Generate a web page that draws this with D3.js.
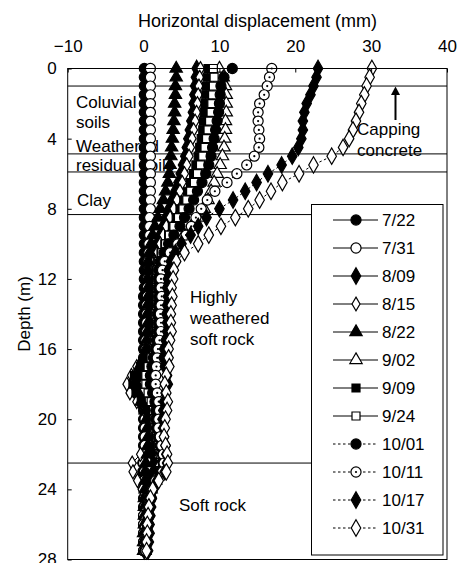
<!DOCTYPE html>
<html>
<head>
<meta charset="utf-8">
<script src="https://cdn.jsdelivr.net/npm/d3@7"></script>
<style>
  body { margin: 0; background: #fff; }
  svg { font-family: Arial, "Liberation Sans", sans-serif; }
</style>
</head>
<body>
<div id="canvas"></div>
<script>
// reading dates (legend order)
const dates = ['7/22', '7/31', '8/09', '8/15', '8/22', '9/02', '9/09', '9/24', '10/01', '10/11', '10/17', '10/31'];

// measuring depths (m)
const depths = [0, 0.5, 1, 1.5, 2, 2.5, 3, 3.5, 4, 4.5, 5, 5.5, 6, 6.5, 7, 7.5, 8, 8.5, 9, 9.5,
  10, 10.5, 11, 11.5, 12, 12.5, 13, 13.5, 14, 14.5, 15, 15.5, 16, 16.5, 17, 17.5, 18, 18.5, 19, 19.5,
  20, 20.5, 21, 21.5, 22, 22.5, 23, 23.5, 24, 24.5, 25, 25.5, 26, 26.5, 27, 27.5];

// horizontal displacement (mm) per reading
const d0722 = [0.1, 0.1, 0.1, 0.1, 0.1, 0.1, 0.1, 0.1, 0.1, 0.1, 0.1, 0.1, 0.1, 0.1, 0.1, 0.1, 0.1, 0.1, 0.1, 0.1,
  0.1, 0.1, 0.1,
  0.1, 0.1, 0.1, 0.0, 0.0, 0.0, 0.0, 0.0, 0.0, 0.0, 0.0, -0.1, -0.1, -0.2, -0.2, -0.1, 0.0, 0.0, 0.0, 0.0,
  0.0, 0.0, -0.1, -0.1, 0.0, 0.0, 0.0, 0.0, 0.0, 0.0, 0.0, 0.0, 0.0];
const d0731 = [0.9, 0.9, 0.9, 0.9, 0.9, 0.9, 0.9, 0.9, 0.9, 0.9, 0.9, 0.9, 0.9, 0.9, 0.9, 0.9, 0.9, 0.8, 0.8, 0.8,
  0.7, 0.7, 0.6,
  0.6, 0.5, 0.5, 0.5, 0.4, 0.4, 0.4, 0.4, 0.3, 0.3, 0.3, 0.2, 0.1, 0.0, 0.0, 0.1, 0.2, 0.2, 0.2, 0.2,
  0.2, 0.1, 0.0, 0.1, 0.1, 0.1, 0.1, 0.1, 0.0, 0.0, 0.0, 0.0, 0.0];
const d0809 = [7.0, 6.9, 6.8, 6.7, 6.6, 6.5, 6.3, 6.1, 5.9, 5.7, 5.5, 5.2, 4.9, 4.6, 4.2, 3.8, 3.4, 3.0, 2.6, 2.2,
  1.8, 1.5, 1.2,
  1.1, 1.0, 1.0, 1.1, 1.0, 0.9, 1.0, 1.1, 1.0, 0.9, 0.7, 0.2, -0.6, -1.1, -1.0, -0.5, 0.3, 0.8, 0.9, 1.0,
  1.1, 1.2, 1.4, 1.3, 0.9, 0.6, 0.4, 0.3, 0.3, 0.2, 0.2, 0.1, 0.1];
const d0815 = [7.5, 7.4, 7.3, 7.2, 7.1, 7.0, 6.8, 6.6, 6.4, 6.2, 6.0, 5.7, 5.4, 5.1, 4.8, 4.4, 4.0, 3.5, 3.0, 2.6,
  2.2, 1.8, 1.4,
  1.2, 1.1, 1.2, 1.3, 1.2, 1.1, 1.1, 1.2, 1.0, 0.8, 0.2, -0.9, -1.6, -2.2, -1.8, -0.9, 0.1, 0.6, 0.8, 0.9,
  0.6, -0.4, -1.5, -1.4, -0.8, -0.2, 0.2, 0.3, 0.2, 0.2, 0.1, 0.1, 0.1];
const d0822 = [4.3, 4.3, 4.2, 4.2, 4.1, 4.1, 4.0, 3.9, 3.8, 3.7, 3.6, 3.5, 3.4, 3.2, 2.9, 2.6, 2.2, 1.9, 1.5, 1.2,
  1.0, 0.8, 0.6,
  0.5, 0.5, 0.6, 0.6, 0.5, 0.5, 0.6, 0.5, 0.4, 0.3, 0.0, -0.5, -0.8, -0.9, -0.7, -0.3, 0.2, 0.4, 0.5, 0.6,
  0.6, 0.5, 0.3, 0.2, 0.2, 0.2, 0.1, 0.1, 0.1, 0.1, 0.0, 0.0, 0.0];
const d0902 = [10.0, 10.5, 10.8, 10.9, 10.9, 10.9, 10.8, 10.8, 10.7, 10.6, 10.4, 10.1, 9.7, 9.3, 8.9, 8.5, 8.0, 7.2, 6.3, 5.3,
  4.2, 3.2, 2.5,
  2.1, 1.9, 1.8, 1.8, 1.7, 1.6, 1.7, 1.8, 1.7, 1.6, 1.4, 1.0, 0.8, 0.7, 0.9, 1.3, 1.6, 1.8, 1.9, 2.0,
  2.1, 2.2, 2.3, 2.1, 1.6, 1.0, 0.7, 0.5, 0.4, 0.3, 0.3, 0.2, 0.2];
const d0909 = [8.5, 8.4, 8.3, 8.2, 8.1, 8.0, 7.9, 7.8, 7.6, 7.4, 7.2, 6.9, 6.6, 6.2, 5.8, 5.3, 4.8, 4.3, 3.8, 3.3,
  2.8, 2.3, 1.8,
  1.6, 1.5, 1.5, 1.6, 1.5, 1.4, 1.5, 1.6, 1.4, 1.2, 0.6, -0.4, -1.2, -1.4, -1.0, -0.3, 0.6, 1.2, 1.4, 1.6,
  1.9, 2.3, 2.5, 2.1, 1.4, 0.9, 0.7, 0.6, 0.5, 0.4, 0.3, 0.2, 0.2];
const d0924 = [9.2, 9.3, 9.2, 9.1, 9.0, 8.9, 8.7, 8.5, 8.3, 8.1, 7.8, 7.5, 7.1, 6.7, 6.2, 5.7, 5.2, 4.6, 4.0, 3.4,
  2.9, 2.4, 2.0,
  1.8, 1.7, 1.7, 1.8, 1.7, 1.6, 1.7, 1.7, 1.5, 1.3, 1.0, 0.6, 0.3, 0.3, 0.6, 1.0, 1.3, 1.4, 1.5, 1.7,
  2.0, 2.3, 2.5, 2.2, 1.3, 0.9, 0.7, 0.6, 0.5, 0.4, 0.3, 0.3, 0.2];
const d1001 = [11.7, 10.6, 10.2, 10.1, 10.0, 9.9, 9.7, 9.5, 9.3, 9.1, 8.9, 8.6, 8.2, 7.7, 7.1, 6.6, 6.0, 5.4, 4.8, 4.0,
  3.3, 2.7, 2.2,
  2.0, 1.9, 1.9, 2.0, 1.9, 1.8, 1.9, 1.9, 1.7, 1.5, 1.3, 1.1, 0.9, 0.9, 1.2, 1.5, 1.6, 1.6, 1.7, 1.9,
  2.2, 2.5, 2.6, 2.3, 1.4, 1.0, 0.8, 0.7, 0.6, 0.5, 0.4, 0.3, 0.3];
const d1011 = [16.9, 16.6, 16.3, 15.9, 15.3, 15.1, 15.1, 15.2, 15.3, 15.2, 14.6, 13.6, 12.3, 11.0, 9.4, 8.4, 7.6, 6.9, 6.3, 5.6,
  4.5, 3.5, 2.8,
  2.5, 2.3, 2.3, 2.4, 2.3, 2.2, 2.3, 2.3, 2.1, 1.9, 1.8, 1.7, 1.6, 1.6, 1.8, 2.0, 2.1, 2.0, 2.0, 2.2,
  2.4, 2.6, 2.7, 2.5, 1.6, 1.2, 1.0, 0.8, 0.7, 0.6, 0.5, 0.4, 0.3];
const d1017 = [23.0, 22.8, 22.4, 22.0, 21.5, 21.2, 21.0, 21.0, 20.8, 20.4, 19.6, 18.2, 16.4, 14.9, 13.4, 11.8, 10.0, 8.3, 7.2, 6.2,
  5.0, 4.2, 3.6,
  3.3, 3.2, 3.1, 3.2, 3.1, 3.0, 3.1, 3.1, 2.9, 2.7, 2.6, 2.8, 3.1, 3.2, 2.9, 2.7, 2.6, 2.5, 2.6, 2.7,
  2.9, 3.0, 3.1, 2.8, 1.8, 1.3, 1.1, 1.0, 0.9, 0.8, 0.8, 0.7, 0.6];
const d1031 = [30.1, 29.8, 29.4, 29.1, 28.7, 28.4, 28.0, 27.6, 27.1, 26.3, 24.8, 22.4, 20.5, 18.3, 16.8, 15.3, 13.8, 12.1, 10.2, 8.6,
  7.2, 5.4, 4.3,
  4.0, 3.9, 3.7, 3.8, 3.7, 3.6, 3.6, 3.7, 3.5, 3.3, 3.3, 3.4, 3.0, 2.8, 3.0, 3.2, 3.1, 2.9, 2.8, 2.7,
  2.9, 3.1, 3.2, 3.0, 2.0, 1.2, 0.9, 0.7, 0.6, 0.5, 0.5, 0.4, 0.4];

const readings = [d0722, d0731, d0809, d0815, d0822, d0902, d0909, d0924, d1001, d1011, d1017, d1031];

const xTicks = [-10, 0, 10, 20, 30, 40];
const yTicks = [0, 4, 8, 12, 16, 20, 24, 28];

// soil layer boundaries (m)
const layerDepths = [1.0, 4.87, 5.9];
const shortLayerDepths = [8.33, 22.5];

// marker style per reading
const markers = [
  { shape: 'circle', fill: '#000', dash: null },
  { shape: 'circle', fill: '#fff', dash: null },
  { shape: 'diamond', fill: '#000', dash: null },
  { shape: 'diamondSmall', fill: '#fff', dash: null },
  { shape: 'triangle', fill: '#000', dash: null },
  { shape: 'triangle', fill: '#fff', dash: null },
  { shape: 'square', fill: '#000', dash: null },
  { shape: 'square', fill: '#fff', dash: null },
  { shape: 'circle', fill: '#000', dash: '2.5,2.5' },
  { shape: 'circleDot', fill: '#fff', dash: '2.5,2.5' },
  { shape: 'diamond', fill: '#000', dash: '2.5,2.5' },
  { shape: 'diamond', fill: '#fff', dash: '2.5,2.5' }
];

const symbolPath = {
  circle: d3.symbol().type(d3.symbolCircle).size(80)(),
  circleDot: d3.symbol().type(d3.symbolCircle).size(80)(),
  diamond: d3.symbol().type(d3.symbolDiamond).size(78)(),
  diamondSmall: d3.symbol().type(d3.symbolDiamond).size(55)(),
  triangle: d3.symbol().type(d3.symbolTriangle).size(66)(),
  square: d3.symbol().type(d3.symbolSquare).size(64)()
};

const w = 465;
const h = 563;

const x = d3.scaleLinear().domain([-10, 40]).range([67.7, 447]);
const y = d3.scaleLinear().domain([0, 28]).range([68.5, 559.5]);

const svg = d3.select('#canvas')
  .append('svg')
  .attr('width', w)
  .attr('height', h);

function drawMarker(g, m, px, py) {
  g.append('path')
    .attr('d', symbolPath[m.shape])
    .attr('transform', 'translate(' + px + ',' + py + ')')
    .attr('fill', m.fill)
    .attr('stroke', '#000')
    .attr('stroke-width', 1.2);
  if (m.shape === 'circleDot') {
    g.append('circle').attr('cx', px).attr('cy', py).attr('r', 1.1).attr('fill', '#000');
  }
}

// layer lines
svg.selectAll('.layer')
  .data(layerDepths)
  .enter()
  .append('line')
  .attr('x1', x(-10)).attr('x2', x(40))
  .attr('y1', (d) => y(d)).attr('y2', (d) => y(d))
  .attr('stroke', '#000').attr('stroke-width', 1);

svg.selectAll('.layer-short')
  .data(shortLayerDepths)
  .enter()
  .append('line')
  .attr('x1', x(-10)).attr('x2', 311.5)
  .attr('y1', (d) => y(d)).attr('y2', (d) => y(d))
  .attr('stroke', '#000').attr('stroke-width', 1);

// layer labels
const labels = [
  ['Coluvial', 76, 108], ['soils', 76, 128], ['Weathered', 76, 152], ['residual soils', 76, 171],
  ['Clay', 77, 206], ['Highly', 190, 303], ['weathered', 190, 324], ['soft rock', 190, 345],
  ['Soft rock', 179, 511], ['Capping', 357, 135], ['concrete', 357, 156]
];
svg.selectAll('.lbl')
  .data(labels)
  .enter()
  .append('text')
  .attr('x', (d) => d[1])
  .attr('y', (d) => d[2])
  .style('font-size', '17px')
  .text((d) => d[0]);

// arrow for capping concrete
svg.append('line')
  .attr('x1', 395.5).attr('x2', 395.5)
  .attr('y1', 93).attr('y2', 120)
  .attr('stroke', '#000').attr('stroke-width', 2);
svg.append('path')
  .attr('d', 'M391,95 L395.5,86.5 L400,95 Z')
  .attr('fill', '#000');

// data series
const line = d3.line()
  .x((d) => x(d))
  .y((d, i) => y(depths[i]));

readings.forEach((vals, k) => {
  const m = markers[k];
  const g = svg.append('g');
  g.append('path')
    .attr('d', line(vals))
    .attr('fill', 'none')
    .attr('stroke', '#000')
    .attr('stroke-width', 1)
    .attr('stroke-dasharray', m.dash);
  vals.forEach((v, i) => drawMarker(g, m, x(v), y(depths[i])));
});

// frame
svg.append('rect')
  .attr('x', x(-10)).attr('y', y(0))
  .attr('width', x(40) - x(-10)).attr('height', y(28) - y(0))
  .attr('fill', 'none').attr('stroke', '#000').attr('stroke-width', 1);

// axes
const xAxis = d3.axisTop(x).tickValues(xTicks).tickSizeInner(-4).tickSizeOuter(0).tickPadding(17);
const yAxis = d3.axisLeft(y).tickValues(yTicks).tickSizeInner(-4).tickSizeOuter(0).tickPadding(11)
  .tickFormat((d) => d);

svg.append('g')
  .attr('transform', 'translate(0,' + y(0) + ')')
  .call(xAxis)
  .call((g) => g.select('.domain').remove())
  .selectAll('text')
  .style('font-size', '17px')
  .style('font-family', 'Arial, "Liberation Sans", sans-serif')
  .text((d) => d < 0 ? '\u2212' + Math.abs(d) : d);

svg.append('g')
  .attr('transform', 'translate(' + x(-10) + ',0)')
  .call(yAxis)
  .call((g) => g.select('.domain').remove())
  .selectAll('text')
  .style('font-size', '17px')
  .style('font-family', 'Arial, "Liberation Sans", sans-serif');

// axis titles
svg.append('text')
  .attr('x', 257.5)
  .attr('y', 27)
  .style('text-anchor', 'middle')
  .style('font-size', '18px')
  .text('Horizontal displacement (mm)');

svg.append('text')
  .attr('transform', 'translate(30,314) rotate(-90)')
  .style('text-anchor', 'middle')
  .style('font-size', '17px')
  .text('Depth (m)');

// legend
const legend = svg.append('g');
legend.append('rect')
  .attr('x', 311.5).attr('y', 204.5)
  .attr('width', 131.5).attr('height', 350.5)
  .attr('fill', '#fff').attr('stroke', '#000').attr('stroke-width', 1);

dates.forEach((name, k) => {
  const m = markers[k];
  const ly = 220 + k * 28;
  legend.append('line')
    .attr('x1', 333).attr('x2', 378)
    .attr('y1', ly).attr('y2', ly)
    .attr('stroke', '#000').attr('stroke-width', 1)
    .attr('stroke-dasharray', m.dash);
  drawMarker(legend, m, 356, ly);
  legend.append('text')
    .attr('x', 382)
    .attr('y', ly)
    .attr('dy', '0.35em')
    .style('font-size', '17px')
    .text(name);
});
</script>
</body>
</html>
